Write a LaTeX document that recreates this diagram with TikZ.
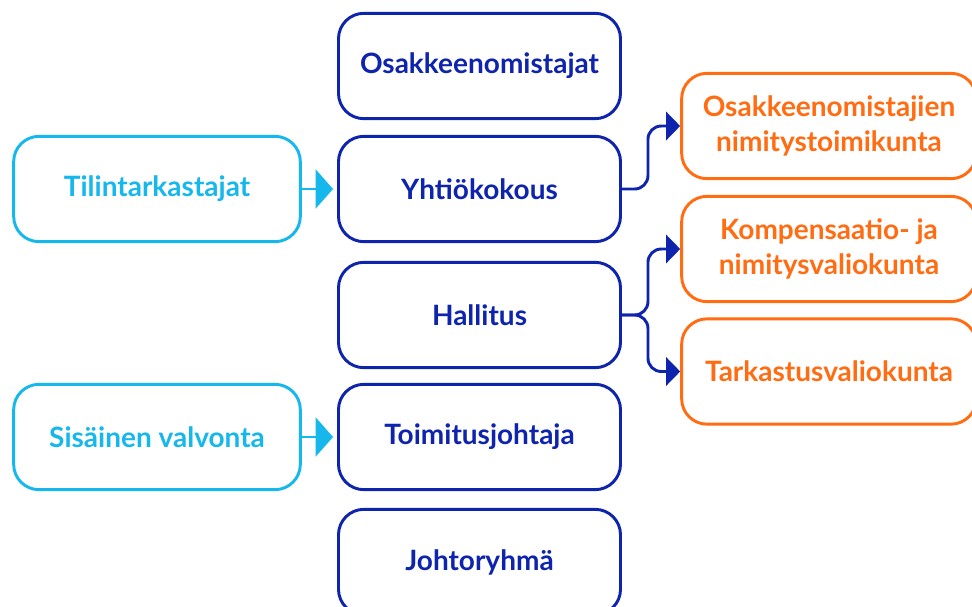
\documentclass[tikz,border=0pt]{standalone}
\usepackage{fontspec}
\setmainfont{Lato}
\usetikzlibrary{arrows.meta}

\definecolor{hqblue}{RGB}{14,36,172}
\definecolor{hqcyan}{RGB}{22,184,236}
\definecolor{hqorange}{RGB}{255,108,18}

\tikzset{
    orgbox/.style={draw=#1, text=#1, fill=white, line width=2.2pt,
        rounded corners=19pt, minimum height=79pt, align=center,
        font=\fontsize{21}{26}\selectfont\bfseries},
    midbox/.style={orgbox=hqblue, minimum width=211.5pt},
    leftbox/.style={orgbox=hqcyan, minimum width=215pt},
    rightbox/.style={orgbox=hqorange, minimum width=221pt},
    feed/.style={hqcyan, line width=2.2pt, -{Triangle[length=13pt,width=29pt]}, shorten >=3pt},
    branch/.style={hqblue, line width=2.2pt, rounded corners=10pt, -{Triangle[length=10.5pt,width=21pt]}}
}

\begin{document}
\begin{tikzpicture}[x=0.75pt,y=-0.75pt]
            \useasboundingbox (0,0) rectangle (972,607);
            \clip (0,0) rectangle (972,607);

            %Nodes
            \node[midbox] (owners) at (479.5,66) {Osakkeenomistajat};
            \node[midbox] (agm) at (479.5,189) {Yhtiökokous};
            \node[midbox] (board) at (479.5,315) {Hallitus};
            \node[midbox] (ceo) at (479.5,437) {Toimitusjohtaja};
            \node[midbox] (mgmt) at (479.5,562) {Johtoryhmä};

            \node[leftbox] (audit) at (157,189) {Tilintarkastajat};
            \node[leftbox] (control) at (157,437) {Sisäinen valvonta};

            \node[rightbox] (nomination) at (829,126) {Osakkeenomistajien\\nimitystoimikunta};
            \node[rightbox] (remuneration) at (829,249) {Kompensaatio- ja\\nimitysvaliokunta};
            \node[rightbox] (auditcom) at (829,371.5) {Tarkastusvaliokunta};

            %Lines
            \draw[feed] (audit) -- (agm);
            \draw[feed] (control) -- (ceo);
            \draw[branch] (agm.east) -- ++(26,0) |- (nomination.west);
            \draw[branch] (board.east) -- ++(26,0) |- (remuneration.west);
            \draw[branch] (board.east) -- ++(26,0) |- (auditcom.west);
\end{tikzpicture}
\end{document}
